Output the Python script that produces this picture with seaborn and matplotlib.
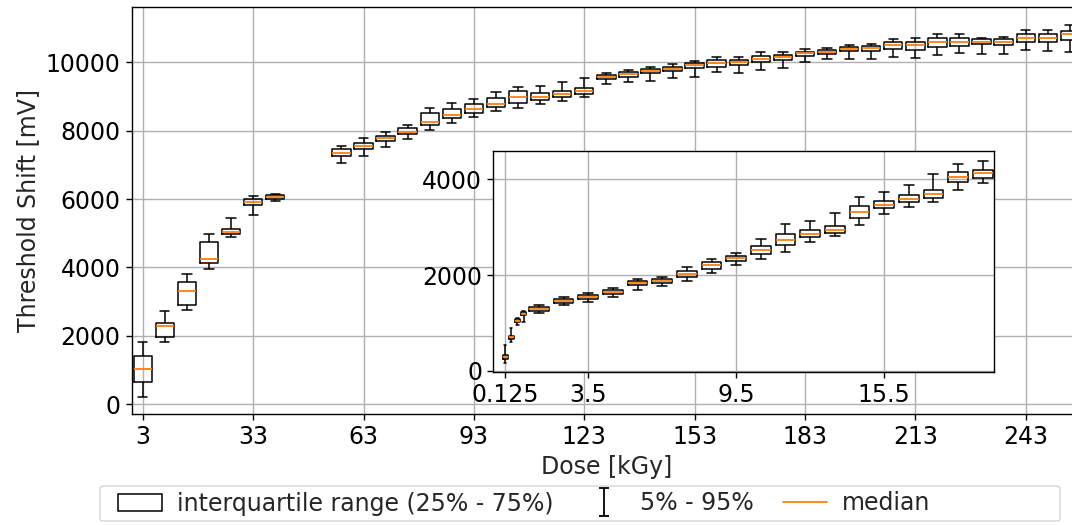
import numpy as np
import pandas as pd
import matplotlib
matplotlib.use("Agg")
import matplotlib.pyplot as plt
from matplotlib.patches import Patch, FancyBboxPatch
from matplotlib.lines import Line2D
from matplotlib.path import Path
import seaborn as sns

# ---- main series: threshold shift per dose step (mV) ----
dose_main = [3, 9, 15, 21, 27, 33, 39,
             57, 63, 69, 75, 81, 87, 93, 99, 105, 111, 117, 123, 129, 135,
             141, 147, 153, 159, 165, 171, 177, 183, 189, 195, 201, 207, 213,
             219, 225, 231, 237, 243, 249, 255]
p05_main = [222, 1813, 2757, 3947, 4883, 5535, 5953,
            7065, 7260, 7524, 7757, 8012, 8217, 8410, 8567, 8655, 8781, 8860, 8976, 9366, 9433,
            9462, 9532, 9570, 9708, 9678, 9775, 9825, 10018, 10087, 10087, 10087, 10164, 10117,
            10204, 10263, 10243, 10243, 10360, 10331, 10292]
q25_main = [652, 1959, 2895, 4123, 4980, 5828, 6012,
            7260, 7465, 7699, 7913, 8167, 8363, 8527, 8702, 8801, 8898, 8994, 9082, 9512, 9579,
            9687, 9746, 9833, 9871, 9921, 10009, 10067, 10193, 10243, 10331, 10331, 10380, 10360,
            10457, 10487, 10526, 10506, 10604, 10585, 10652]
med_main = [1041, 2281, 3313, 4258, 5047, 5906, 6062,
            7357, 7553, 7796, 7971, 8264, 8459, 8635, 8772, 8994, 8994, 9064, 9170, 9579, 9658,
            9755, 9804, 9912, 9989, 10009, 10106, 10164, 10263, 10310, 10389, 10409, 10506, 10506,
            10585, 10585, 10604, 10604, 10721, 10721, 10828]
q75_main = [1421, 2368, 3576, 4755, 5117, 5994, 6120,
            7456, 7650, 7854, 8079, 8527, 8644, 8790, 8947, 9161, 9094, 9161, 9240, 9629, 9716,
            9813, 9871, 9971, 10067, 10067, 10193, 10213, 10310, 10360, 10438, 10477, 10585, 10585,
            10702, 10702, 10673, 10682, 10819, 10819, 10924]
p95_main = [1830, 2737, 3810, 4979, 5439, 6091, 6158,
            7561, 7787, 7953, 8176, 8673, 8801, 8927, 9123, 9287, 9316, 9415, 9550, 9678, 9775,
            9871, 9941, 10038, 10164, 10164, 10292, 10292, 10380, 10409, 10497, 10526, 10673, 10711,
            10819, 10819, 10721, 10750, 10944, 10944, 11090]

# ---- inset series: low-dose steps (two step sizes) ----
dose_fine = [0.125, 0.375, 0.625, 0.875]
p05_fine = [160, 597, 958, 1014]
q25_fine = [250, 660, 1021, 1167]
med_fine = [292, 701, 1048, 1194]
q75_fine = [333, 736, 1076, 1222]
p95_fine = [542, 889, 1097, 1250]

dose_coarse = [1.5, 2.5, 3.5, 4.5, 5.5, 6.5, 7.5, 8.5, 9.5, 10.5,
               11.5, 12.5, 13.5, 14.5, 15.5, 16.5, 17.5, 18.5, 19.5]
p05_coarse = [1215, 1382, 1437, 1535, 1687, 1771, 1875, 2035, 2201, 2326,
              2479, 2687, 2806, 3035, 3270, 3410, 3520, 3784, 3922]
q25_coarse = [1250, 1423, 1500, 1597, 1785, 1827, 1952, 2131, 2298, 2431,
              2618, 2785, 2881, 3201, 3389, 3520, 3618, 3943, 4034]
med_coarse = [1298, 1465, 1548, 1639, 1827, 1868, 2020, 2208, 2354, 2513,
              2736, 2847, 2943, 3318, 3464, 3597, 3701, 4047, 4131]
q75_coarse = [1340, 1507, 1590, 1681, 1868, 1910, 2077, 2270, 2402, 2604,
              2854, 2937, 3020, 3437, 3541, 3666, 3784, 4151, 4201]
p95_coarse = [1375, 1535, 1625, 1729, 1910, 1952, 2166, 2333, 2458, 2743,
              3069, 3118, 3285, 3625, 3735, 3881, 4110, 4318, 4388]

main_ticks = [3, 33, 63, 93, 123, 153, 183, 213, 243]
inset_ticks = [0.125, 3.5, 9.5, 15.5]
inset_yticks = [0, 2000, 4000]
legend_labels = ["interquartile range (25% - 75%)", "5% - 95%", "median"]


def quantile_table(doses, *levels):
    """Long-form table holding the five summary levels of every dose step."""
    rows = [(d, lvl[i]) for i, d in enumerate(doses) for lvl in levels]
    return pd.DataFrame(rows, columns=["dose", "shift"])


main_df = quantile_table(dose_main, p05_main, q25_main, med_main, q75_main, p95_main)
fine_df = quantile_table(dose_fine, p05_fine, q25_fine, med_fine, q75_fine, p95_fine)
coarse_df = quantile_table(dose_coarse, p05_coarse, q25_coarse, med_coarse, q75_coarse, p95_coarse)

sns.set_theme(style="ticks", rc={
    "axes.grid": True,
    "grid.color": "#b0b0b0",
    "grid.linewidth": 1.0,
    "axes.edgecolor": "black",
    "axes.linewidth": 1.0,
    "xtick.major.size": 4.5,
    "ytick.major.size": 4.5,
    "xtick.major.width": 1.0,
    "ytick.major.width": 1.0,
    "xtick.color": "black",
    "ytick.color": "black",
    "font.size": 17,
    "axes.labelsize": 17,
    "xtick.labelsize": 17,
    "ytick.labelsize": 17,
    "legend.fontsize": 17,
})
plt.rcParams["font.family"] = ["DejaVu Sans"]

MEDIAN = "#ff7f0e"
box_kw = dict(orient="x", native_scale=True, whis=(0, 100), fill=False,
              color="black", linecolor="black", linewidth=1.1, legend=False,
              medianprops=dict(color=MEDIAN, linewidth=1.3))

fig = plt.figure(figsize=(10.72, 5.25), dpi=100)
ax = fig.add_axes([0.1229, 0.2109, 0.8854, 0.7752])
sns.boxplot(data=main_df, x="dose", y="shift", width=5 / 6, ax=ax, **box_kw)
ax.set_xlim(0, 258)
ax.set_ylim(-292, 11608)
ax.set_xticks(main_ticks)
ax.set_xticklabels([str(t) for t in main_ticks])
ax.set_yticks(np.arange(0, 11000, 2000))
ax.set_xlabel("Dose [kGy]")
ax.set_ylabel("Threshold Shift [mV]")
for s in ax.spines.values():
    s.set_visible(True)

# inset with the low-dose steps
ins = fig.add_axes([0.4602, 0.2909, 0.4671, 0.4221])
ins.set_facecolor("white")
sns.boxplot(data=fine_df, x="dose", y="shift", width=0.8, ax=ins, **box_kw)
sns.boxplot(data=coarse_df, x="dose", y="shift", width=0.8, ax=ins, **box_kw)
ins.set_xlim(-0.35, 19.96)
ins.set_ylim(-27, 4595)
ins.set_xticks(inset_ticks)
ins.set_xticklabels(["0.125", "3.5", "9.5", "15.5"])
ins.set_yticks(inset_yticks)
ins.set_xlabel("")
ins.set_ylabel("")
for s in ins.spines.values():
    s.set_visible(True)

# legend describing the box elements, on a wide rounded panel
W, H = fig.get_size_inches() * fig.dpi
panel = FancyBboxPatch((100 / W, 4 / H), 960 / W, 35 / H,
                       boxstyle="round,pad=0,rounding_size=0.004",
                       transform=fig.transFigure, facecolor="white",
                       edgecolor="0.8", linewidth=1.0, alpha=0.8)
fig.add_artist(panel)

ibar = Path([(-0.35, 1), (0.35, 1), (0, 1), (0, -1), (-0.35, -1), (0.35, -1)],
            [Path.MOVETO, Path.LINETO, Path.MOVETO, Path.LINETO, Path.MOVETO, Path.LINETO])
handles = [
    Patch(facecolor="white", edgecolor="black", linewidth=1.1),
    Line2D([], [], color="black", marker=ibar, linestyle="none", markersize=20,
           markerfacecolor="none", markeredgewidth=1.3),
    Line2D([], [], color=MEDIAN, linewidth=1.3),
]
fig.legend(handles, legend_labels, loc="center left", ncol=3,
           bbox_to_anchor=(102 / W, 21.5 / H), frameon=False,
           borderpad=0.16, handlelength=1.9, handletextpad=0.6,
           columnspacing=1.2)

fig.savefig("out.png", dpi=100)
